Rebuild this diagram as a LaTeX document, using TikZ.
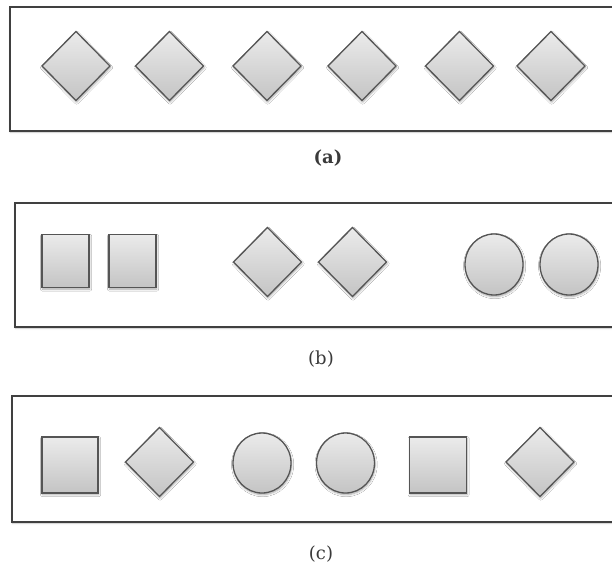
\documentclass[tikz,border=0pt]{standalone}
\usepackage{fontspec}
\setmainfont{DejaVu Serif}
\usetikzlibrary{shapes.geometric,shadows.blur}
\definecolor{shapetop}{HTML}{EBEBEB}
\definecolor{shapebot}{HTML}{C4C4C4}
\definecolor{shapeline}{HTML}{555555}
\definecolor{frameline}{HTML}{404040}
\definecolor{captext}{HTML}{3A3A3A}
\tikzset{
  x=1pt, y=-1pt,
  token/.style={draw=shapeline, line width=1.3pt, top color=shapetop, bottom color=shapebot,
    inner sep=0pt, outer sep=0pt,
    blur shadow={shadow xshift=0.6pt, shadow yshift=-1.6pt, shadow blur steps=6, shadow opacity=35}},
  rhomb/.style={token, diamond, minimum width=68pt, minimum height=69pt},
  disc/.style={token, ellipse, minimum width=58pt, minimum height=60pt},
  sqbox/.style={token, rectangle, line width=1.5pt},
  panel/.style={draw=frameline, line width=1.4pt, fill=white,
    blur shadow={shadow xshift=0.5pt, shadow yshift=-1pt, shadow blur steps=4, shadow opacity=25}},
  caption/.style={font=\fontsize{18}{20}\selectfont, text=captext, inner sep=0pt}
}
\begin{document}
\begin{tikzpicture}
\useasboundingbox (0,0) rectangle (612,570);
\clip (0,0) rectangle (612,570);

% (a) six diamonds
\draw[panel] (10,7) rectangle (640,131);
\foreach \i/\cx in {1/76, 2/169.5, 3/267, 4/362, 5/459.5, 6/551}
  \node[rhomb] (a\i) at (\cx,66) {};
\node[caption, font=\bfseries\fontsize{18}{20}\selectfont] (capa) at (328,158) {(a)};

% (b) grouped by shape
\draw[panel] (15,203) rectangle (640,327);
\node[sqbox, minimum width=47pt, minimum height=53pt] (b1) at (65.5,261) {};
\node[sqbox, minimum width=47pt, minimum height=53pt] (b2) at (132.5,261) {};
\node[rhomb] (b3) at (267.5,262) {};
\node[rhomb] (b4) at (352.5,262) {};
\node[disc, minimum width=58pt, minimum height=61pt] (b5) at (494,264.5) {};
\node[disc, minimum width=58pt, minimum height=61pt] (b6) at (569,264.5) {};
\node[caption] (capb) at (321,359) {(b)};

% (c) mixed sequence
\draw[panel] (12,396) rectangle (640,522);
\node[sqbox, minimum width=56pt, minimum height=56pt] (c1) at (70,465) {};
\node[rhomb] (c2) at (159.5,462) {};
\node[disc] (c3) at (262,463) {};
\node[disc] (c4) at (345.5,463) {};
\node[sqbox, minimum width=57pt, minimum height=56pt] (c5) at (438,465) {};
\node[rhomb] (c6) at (540,462) {};
\node[caption] (capc) at (321,554) {(c)};
\end{tikzpicture}
\end{document}
